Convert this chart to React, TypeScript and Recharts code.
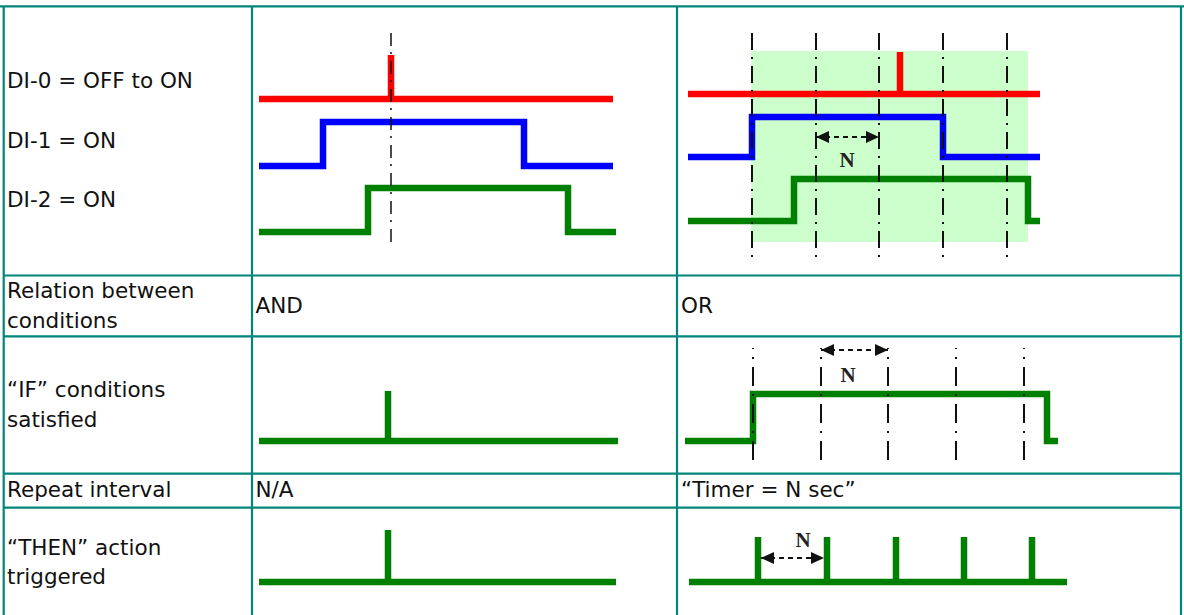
import { LineChart, Line, XAxis, YAxis, ReferenceArea, ReferenceDot } from "recharts";

// Colours picked off the reference diagram.
const COLOR = {
  rule: "#00857a",
  red: "#ff0000",
  blue: "#0000ff",
  green: "#008000",
  ink: "#111111",
  shade: "#ccffcc",
} as const;

const FONT = "'DejaVu Sans', Verdana, sans-serif";

// Time (t) runs in ticks of 10px from the left of each cell, level (v) up from the cell bottom.
type Pt = { t: number; v: number | null };

// --- "IF" conditions, AND column ---
const AND_DI0_T = [0.7, 13.9, 13.9, 13.9, 36.1];
const AND_DI0_V = [17.6, 17.6, 22.0, 17.6, 17.6];
const AND_DI1_T = [0.7, 7.1, 7.1, 27.2, 27.2, 36.1];
const AND_DI1_V = [10.9, 10.9, 15.3, 15.3, 10.9, 10.9];
const AND_DI2_T = [0.7, 11.6, 11.6, 31.6, 31.6, 36.4];
const AND_DI2_V = [4.3, 4.3, 8.7, 8.7, 4.3, 4.3];
const AND_TRIGGER = [13.9];
const AND_TRIGGER_SPAN = [24.2, 2.7];

// --- "IF" conditions, OR column ---
const OR_DI0_T = [1.1, 22.3, 22.3, 22.3, 36.3];
const OR_DI0_V = [18.1, 18.1, 22.3, 18.1, 18.1];
const OR_DI1_T = [1.1, 7.5, 7.5, 26.6, 26.6, 36.3];
const OR_DI1_V = [11.8, 11.8, 15.8, 15.8, 11.8, 11.8];
const OR_DI2_T = [1.1, 11.7, 11.7, 35.1, 35.1, 36.3];
const OR_DI2_V = [5.4, 5.4, 9.6, 9.6, 5.4, 5.4];
const OR_TIMER = [7.5, 13.9, 20.2, 26.6, 33.0];
const OR_TIMER_SPAN = [24.2, 1.7];
const OR_WINDOW = { t: [7.4, 35.1], v: [3.3, 22.4] };
const OR_N = { t: [13.9, 20.2], v: 13.8, label: [17.0, 11.5] };

// --- conditions satisfied ---
const AND_IF_T = [0.7, 13.6, 13.6, 13.6, 36.6];
const AND_IF_V = [3.2, 3.2, 8.2, 3.2, 3.2];
const OR_IF_T = [0.8, 7.6, 7.6, 37.0, 37.0, 38.1];
const OR_IF_V = [3.2, 3.2, 7.9, 7.9, 3.2, 3.2];
const OR_IF_TIMER = [7.6, 14.4, 21.1, 27.9, 34.7];
const OR_IF_TIMER_SPAN = [12.5, 1.1];
const OR_IF_N = { t: [14.4, 21.1], v: 12.3, label: [17.1, 9.8] };

// --- action triggered ---
const AND_THEN_T = [0.7, 13.6, 13.6, 13.6, 36.4];
const AND_THEN_V = [3.3, 3.3, 8.5, 3.3, 3.3];
const OR_THEN_PULSES = [8.1, 15.0, 21.9, 28.7, 35.5];
const OR_THEN_RANGE = [1.2, 39.0];
const OR_THEN_LEVEL = [3.3, 7.8];
const OR_THEN_N = { t: [8.4, 14.7], v: 5.7, label: [12.6, 7.5] };

const zip = (ts: number[], vs: number[]): Pt[] => ts.map((t, i) => ({ t, v: vs[i] }));

// vertical marker segments, broken by nulls
const verticals = (xs: number[], span: number[]): Pt[] =>
  xs.flatMap((t) => [
    { t, v: span[0] },
    { t, v: span[1] },
    { t, v: null },
  ]);

const pulseTrain = (range: number[], level: number[], at: number[]): Pt[] => [
  { t: range[0], v: level[0] },
  ...at.flatMap((t) => [
    { t, v: level[0] },
    { t, v: level[1] },
    { t, v: level[0] },
  ]),
  { t: range[1], v: level[0] },
];

function ArrowHead(props: any) {
  const { cx, cy, index } = props;
  const dir = index === 0 ? -1 : 1;
  const L = 13;
  const H = 6;
  return (
    <polygon
      key={`ah-${index}`}
      points={`${cx},${cy} ${cx - dir * L},${cy - H} ${cx - dir * L},${cy + H}`}
      fill={COLOR.ink}
    />
  );
}

function signal(key: string, data: Pt[], color: string) {
  return (
    <Line
      key={key}
      data={data}
      dataKey="v"
      stroke={color}
      strokeWidth={6.5}
      strokeLinecap="butt"
      dot={false}
      activeDot={false}
      connectNulls={false}
      isAnimationActive={false}
    />
  );
}

function markers(key: string, data: Pt[], dash: string, width = 2) {
  return (
    <Line
      key={key}
      data={data}
      dataKey="v"
      stroke={COLOR.ink}
      strokeWidth={width}
      strokeDasharray={dash}
      dot={false}
      activeDot={false}
      connectNulls={false}
      isAnimationActive={false}
    />
  );
}

function interval(key: string, n: { t: number[]; v: number; label: number[] }) {
  return [
    <Line
      key={`${key}-arrow`}
      data={n.t.map((t) => ({ t, v: n.v }))}
      dataKey="v"
      stroke={COLOR.ink}
      strokeWidth={1.8}
      strokeDasharray="5 4"
      dot={ArrowHead}
      activeDot={false}
      isAnimationActive={false}
    />,
    <ReferenceDot
      key={`${key}-label`}
      x={n.label[0]}
      y={n.label[1]}
      r={1}
      fill="none"
      stroke="none"
      label={{
        value: "N",
        position: "center",
        fill: "#222",
        fontSize: 21,
        fontWeight: "bold",
        fontFamily: "'Liberation Serif', 'Times New Roman', serif",
      }}
    />,
  ];
}

function Wave({ left, top, width, height, children }: any) {
  return (
    <div style={{ position: "absolute", left, top, width, height }}>
      <LineChart width={width} height={height} margin={{ top: 0, right: 0, bottom: 0, left: 0 }}>
        <XAxis type="number" dataKey="t" domain={[0, width / 10]} hide allowDataOverflow />
        <YAxis type="number" domain={[0, height / 10]} hide allowDataOverflow />
        {children}
      </LineChart>
    </div>
  );
}

const H_RULES = [6.3, 275.5, 336.3, 473.7, 507.7];
const V_RULES = [3.7, 252, 677, 1181];

const TEXTS: { x: number; y: number; s: string }[] = [
  { x: 7, y: 88.3, s: "DI-0 = OFF to ON" },
  { x: 7, y: 148.3, s: "DI-1 = ON" },
  { x: 7, y: 206.7, s: "DI-2 = ON" },
  { x: 7, y: 298.3, s: "Relation between" },
  { x: 7, y: 327.7, s: "conditions" },
  { x: 7, y: 396.7, s: "“IF” conditions" },
  { x: 7, y: 426.7, s: "satisfied" },
  { x: 7, y: 496.7, s: "Repeat interval" },
  { x: 7, y: 555, s: "“THEN” action" },
  { x: 7, y: 584, s: "triggered" },
  { x: 255.5, y: 313.3, s: "AND" },
  { x: 255.5, y: 496.7, s: "N/A" },
  { x: 681, y: 313.3, s: "OR" },
  { x: 681, y: 496.7, s: "“Timer = N sec”" },
];

export default function App() {
  return (
    <div
      style={{
        position: "absolute",
        left: 0,
        top: 0,
        width: 1184,
        height: 615,
        background: "#fff",
        overflow: "hidden",
      }}
    >
      <svg width={1184} height={615} style={{ position: "absolute", left: 0, top: 0 }}>
        {H_RULES.map((y, i) => (
          <line
            key={`h${i}`}
            x1={i === 0 ? 0 : V_RULES[0]}
            x2={i === 0 ? 1184 : V_RULES[3]}
            y1={y}
            y2={y}
            stroke={COLOR.rule}
            strokeWidth={2.2}
          />
        ))}
        {V_RULES.map((x, i) => (
          <line key={`v${i}`} x1={x} x2={x} y1={H_RULES[0]} y2={615} stroke={COLOR.rule} strokeWidth={2.2} />
        ))}
        {TEXTS.map((t, i) => (
          <text key={i} x={t.x} y={t.y} fontFamily={FONT} fontSize={21.5} fill={COLOR.ink}>
            {t.s}
          </text>
        ))}
      </svg>

      <Wave left={252} top={6} width={425} height={269}>
        {signal("di0", zip(AND_DI0_T, AND_DI0_V), COLOR.red)}
        {signal("di1", zip(AND_DI1_T, AND_DI1_V), COLOR.blue)}
        {signal("di2", zip(AND_DI2_T, AND_DI2_V), COLOR.green)}
        {markers("trig", verticals(AND_TRIGGER, AND_TRIGGER_SPAN), "13 6 2 7", 1.5)}
      </Wave>

      <Wave left={677} top={6} width={504} height={269}>
        <ReferenceArea
          x1={OR_WINDOW.t[0]}
          x2={OR_WINDOW.t[1]}
          y1={OR_WINDOW.v[0]}
          y2={OR_WINDOW.v[1]}
          fill={COLOR.shade}
          fillOpacity={1}
          stroke="none"
        />
        {signal("di0", zip(OR_DI0_T, OR_DI0_V), COLOR.red)}
        {signal("di1", zip(OR_DI1_T, OR_DI1_V), COLOR.blue)}
        {signal("di2", zip(OR_DI2_T, OR_DI2_V), COLOR.green)}
        {markers("timer", verticals(OR_TIMER, OR_TIMER_SPAN), "17 7 2 7")}
        {interval("n", OR_N)}
      </Wave>

      <Wave left={252} top={336} width={425} height={137}>
        {signal("if", zip(AND_IF_T, AND_IF_V), COLOR.green)}
      </Wave>

      <Wave left={677} top={336} width={504} height={137}>
        {signal("if", zip(OR_IF_T, OR_IF_V), COLOR.green)}
        {markers("timer", verticals(OR_IF_TIMER, OR_IF_TIMER_SPAN), "1 8 2 8 18 0")}
        {interval("n", OR_IF_N)}
      </Wave>

      <Wave left={252} top={508} width={425} height={107}>
        {signal("then", zip(AND_THEN_T, AND_THEN_V), COLOR.green)}
      </Wave>

      <Wave left={677} top={508} width={504} height={107}>
        {signal("then", pulseTrain(OR_THEN_RANGE, OR_THEN_LEVEL, OR_THEN_PULSES), COLOR.green)}
        {interval("n", OR_THEN_N)}
      </Wave>
    </div>
  );
}
